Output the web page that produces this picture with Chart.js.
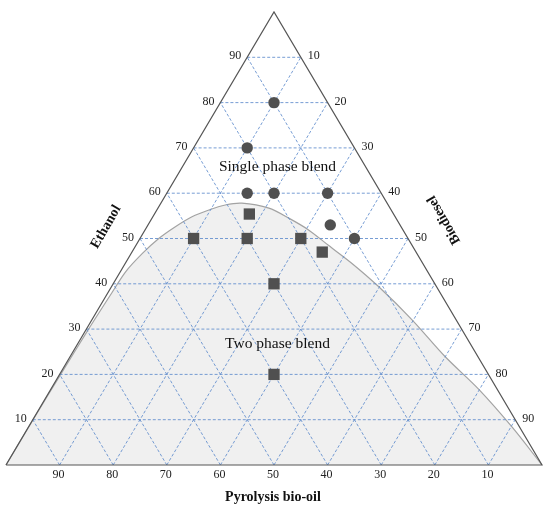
<!DOCTYPE html>
<html>
<head>
<meta charset="utf-8">
<title>Ethanol / Biodiesel / Pyrolysis bio-oil</title>
<style>
  html, body { margin: 0; padding: 0; background: #fff; }
  canvas { display: block; }
</style>
</head>
<body>
<canvas id="chart" width="543" height="506"></canvas>
<script src="https://cdn.jsdelivr.net/npm/chart.js@4.4.0/dist/chart.umd.min.js"></script>
<script>
// all values in %, E = ethanol, B = biodiesel, bio-oil = 100 - E - B
var gridLevels = [10, 20, 30, 40, 50, 60, 70, 80, 90]

// blends that stayed in one phase (circles)
var singleE = [80, 70, 60, 60, 60, 53, 50]
var singleB = [10, 10, 15, 20, 30, 34, 40]

// blends that separated (squares)
var twoE = [55.4, 50, 50, 50, 47, 40, 20]
var twoB = [17.7, 10, 20, 30, 35.5, 30, 40]

// phase boundary, from the bio-oil corner to the biodiesel corner
var curveE = [0, 10, 20, 30, 38.3, 42.7, 46.7, 50, 52.6, 54.8, 56.3, 57.4, 57.8, 56.7, 54.5, 51.9, 48.5, 44.5, 39.4, 32, 23.9, 16.6, 8.4, 0]
var curveB = [0, 0.05, 0.2, 0.4, 0.75, 1.0, 2.1, 3.5, 5.3, 7.3, 9.7, 12.2, 15.1, 20.7, 25.5, 30.5, 35.9, 42.3, 49.8, 59.8, 70, 80, 90.2, 100]

var axisTitles = ['Ethanol', 'Biodiesel', 'Pyrolysis bio-oil']
var regionLabels = ['Single phase blend', 'Two phase blend']

function tern(e, b) {
    return { x: b + e / 2, y: e }
}

var datasets = []

datasets.push({
    data: curveE.map(function (e, i) { return tern(e, curveB[i]) }),
    showLine: true,
    fill: 'origin',
    backgroundColor: '#f0f0f0',
    borderColor: '#a3a3a3',
    borderWidth: 1.2,
    pointRadius: 0,
    tension: 0.3,
    order: 5,
    clip: false
})

gridLevels.forEach(function (v) {
    var lines = [
        [tern(v, 0), tern(v, 100 - v)],
        [tern(0, v), tern(100 - v, v)],
        [tern(0, 100 - v), tern(100 - v, 0)]
    ]
    lines.forEach(function (l) {
        datasets.push({
            data: l,
            showLine: true,
            borderColor: 'rgba(95,140,205,0.85)',
            borderWidth: 1,
            borderDash: [3, 2],
            pointRadius: 0,
            order: 4,
            clip: false
        })
    })
})

datasets.push({
    data: [tern(0, 0), tern(100, 0), tern(0, 100), tern(0, 0)],
    showLine: true,
    borderColor: '#555',
    borderWidth: 1.2,
    pointRadius: 0,
    order: 2,
    clip: false
})

datasets.push({
    data: singleE.map(function (e, i) { return tern(e, singleB[i]) }),
    pointStyle: 'circle',
    pointRadius: 5.7,
    backgroundColor: '#505050',
    borderColor: '#505050',
    borderWidth: 0,
    order: 0,
    clip: false
})

datasets.push({
    data: twoE.map(function (e, i) { return tern(e, twoB[i]) }),
    pointStyle: 'rect',
    pointRadius: 8,
    backgroundColor: '#505050',
    borderColor: '#505050',
    borderWidth: 0,
    order: 0,
    clip: false
})

var labelsPlugin = {
    id: 'ternaryLabels',
    afterDatasetsDraw: function (chart) {
        var ctx = chart.ctx
        var sx = chart.scales.x, sy = chart.scales.y
        function px(p) { return [sx.getPixelForValue(p.x), sy.getPixelForValue(p.y)] }

        ctx.save()
        ctx.fillStyle = '#222'
        ctx.font = '12px "Liberation Serif", "Times New Roman", serif'
        ctx.textBaseline = 'middle'
        gridLevels.forEach(function (v) {
            var a = px(tern(v, 0))
            ctx.textAlign = 'right'
            ctx.fillText(String(v), a[0] - 6, a[1] - 1)

            var b = px(tern(v, 100 - v))
            ctx.textAlign = 'left'
            ctx.fillText(String(100 - v), b[0] + 7, b[1] - 1)

            var c = px(tern(0, 100 - v))
            ctx.textAlign = 'center'
            ctx.fillText(String(v), c[0] - 1, c[1] + 10)
        })

        ctx.fillStyle = '#111'
        ctx.font = '15.5px "Liberation Serif", "Times New Roman", serif'
        ctx.textAlign = 'center'
        var r1 = px(tern(65.9, 17.7))
        ctx.fillText(regionLabels[0], r1[0], r1[1])
        var r2 = px(tern(26.7, 37.3))
        ctx.fillText(regionLabels[1], r2[0], r2[1])

        ctx.font = 'bold 14px "Liberation Serif", "Times New Roman", serif'
        ctx.save()
        ctx.translate(106, 227)
        ctx.rotate(-Math.PI / 3)
        ctx.fillText(axisTitles[0], 0, 0)
        ctx.restore()

        ctx.save()
        ctx.translate(444, 220)
        ctx.rotate(Math.PI * 4 / 3)
        ctx.fillText(axisTitles[1], 0, 0)
        ctx.restore()

        ctx.fillText(axisTitles[2], 273, 497)
        ctx.restore()
    }
}

new Chart(document.getElementById('chart').getContext('2d'), {
    type: 'scatter',
    data: { datasets: datasets },
    options: {
        responsive: false,
        animation: false,
        layout: { autoPadding: false, padding: { left: 6, right: 1, top: 12, bottom: 41 } },
        scales: {
            x: { type: 'linear', min: 0, max: 100, display: false },
            y: { type: 'linear', min: 0, max: 100, display: false }
        },
        plugins: {
            legend: { display: false },
            tooltip: { enabled: false }
        }
    },
    plugins: [labelsPlugin]
})
</script>
</body>
</html>
